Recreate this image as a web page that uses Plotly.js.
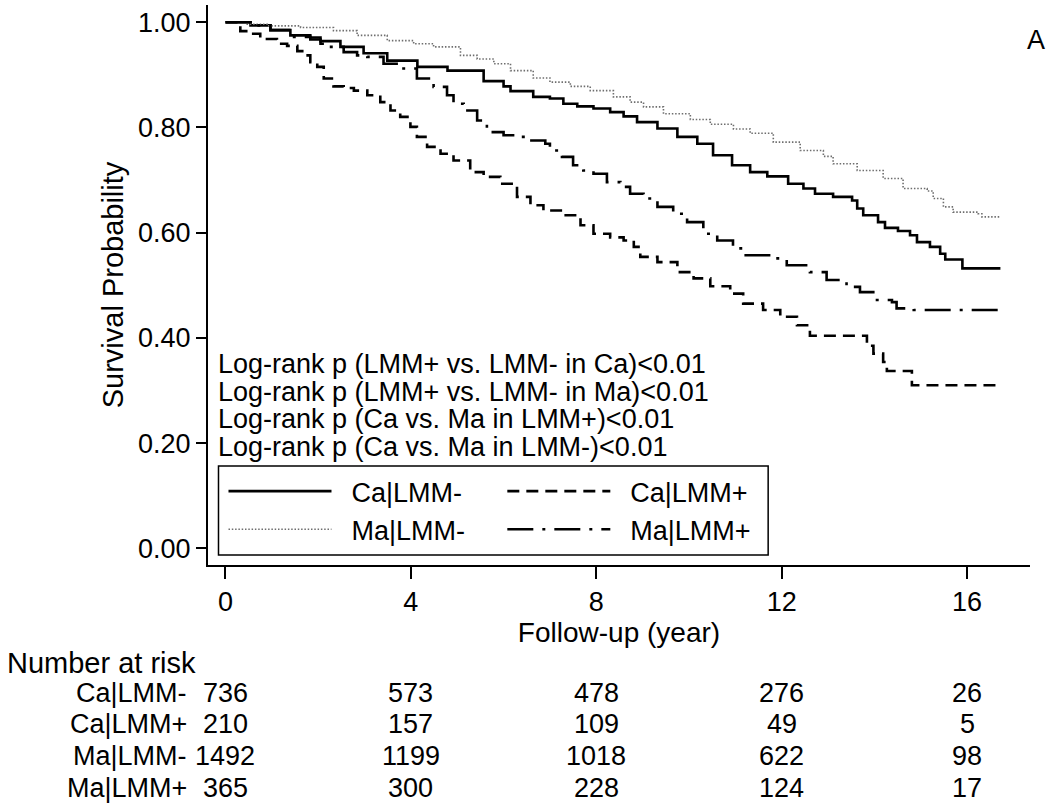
<!DOCTYPE html>
<html>
<head>
<meta charset="utf-8">
<script src="https://cdn.plot.ly/plotly-3.0.1.min.js"></script>
<style>html,body{margin:0;padding:0;background:#fff;}#chart{width:1050px;height:809px;}</style>
</head>
<body>
<div id="chart"></div>
<script>
// ---- data ----
const groupNames = ["Ca|LMM-", "Ca|LMM+", "Ma|LMM-", "Ma|LMM+"];

const caNegTime = [0, 0.54, 0.97, 1.4, 1.83, 2.05, 2.48, 2.98, 3.49, 4.14, 4.79, 5.57, 6.0, 6.15, 6.64, 7.0, 7.29, 7.59, 7.94, 8.3, 8.59, 8.88, 9.32, 9.75, 10.18, 10.52, 10.93, 11.32, 11.69, 12.14, 12.47, 12.72, 13.11, 13.52, 13.63, 13.76, 14.08, 14.23, 14.51, 14.77, 14.92, 15.2, 15.42, 15.53, 15.9, 16.72];
const caNegSurv = [1.0, 0.994, 0.985, 0.975, 0.971, 0.964, 0.953, 0.941, 0.927, 0.915, 0.908, 0.888, 0.878, 0.869, 0.858, 0.855, 0.845, 0.840, 0.836, 0.829, 0.821, 0.810, 0.798, 0.782, 0.769, 0.747, 0.728, 0.715, 0.707, 0.693, 0.684, 0.674, 0.668, 0.661, 0.646, 0.633, 0.620, 0.609, 0.603, 0.595, 0.582, 0.573, 0.560, 0.549, 0.532, 0.532];

const caPosTime = [0, 0.32, 0.54, 0.75, 1.11, 1.33, 1.55, 1.69, 1.83, 1.98, 2.12, 2.33, 2.55, 2.77, 3.06, 3.34, 3.56, 3.77, 3.99, 4.13, 4.35, 4.64, 4.92, 5.28, 5.57, 5.93, 6.29, 6.58, 6.86, 7.29, 7.66, 7.94, 8.3, 8.59, 8.81, 8.95, 9.32, 9.75, 10.1, 10.46, 10.89, 11.17, 11.6, 11.97, 12.33, 12.61, 13.84, 13.98, 14.19, 14.27, 14.81, 16.72];
const caPosSurv = [1.0, 0.983, 0.978, 0.968, 0.959, 0.955, 0.945, 0.937, 0.924, 0.915, 0.893, 0.878, 0.875, 0.870, 0.861, 0.848, 0.832, 0.820, 0.801, 0.782, 0.763, 0.750, 0.737, 0.715, 0.706, 0.693, 0.668, 0.652, 0.642, 0.633, 0.614, 0.598, 0.591, 0.585, 0.573, 0.554, 0.544, 0.525, 0.513, 0.498, 0.484, 0.465, 0.453, 0.440, 0.424, 0.404, 0.385, 0.370, 0.354, 0.337, 0.310, 0.310];

const maNegTime = [0, 0.47, 0.9, 1.62, 2.33, 2.84, 3.49, 4.06, 4.49, 5.07, 5.43, 5.79, 6.15, 6.64, 7.0, 7.44, 7.87, 8.37, 8.73, 9.02, 9.45, 10.03, 10.46, 10.96, 11.32, 11.82, 12.4, 12.9, 13.11, 13.63, 14.19, 14.62, 15.14, 15.27, 15.49, 15.7, 16.24, 16.32, 16.72];
const maNegSurv = [1.0, 0.996, 0.993, 0.990, 0.984, 0.975, 0.965, 0.959, 0.953, 0.937, 0.930, 0.921, 0.908, 0.894, 0.886, 0.878, 0.870, 0.858, 0.848, 0.839, 0.826, 0.815, 0.806, 0.797, 0.789, 0.772, 0.756, 0.745, 0.731, 0.718, 0.703, 0.684, 0.679, 0.665, 0.649, 0.639, 0.636, 0.630, 0.629];

const maPosTime = [0, 0.54, 0.97, 1.48, 1.83, 2.05, 2.19, 2.55, 2.84, 3.06, 3.41, 3.77, 4.13, 4.49, 4.78, 4.92, 5.14, 5.43, 5.64, 5.71, 6.0, 6.29, 6.5, 6.9, 7.0, 7.22, 7.26, 7.5, 7.72, 7.94, 8.23, 8.52, 8.73, 9.02, 9.32, 9.66, 9.96, 10.31, 10.61, 10.95, 11.17, 11.82, 12.11, 12.61, 12.97, 13.4, 13.69, 14.02, 14.38, 14.48, 14.85, 16.72];
const maPosSurv = [1.0, 0.994, 0.985, 0.972, 0.967, 0.959, 0.953, 0.943, 0.937, 0.934, 0.921, 0.912, 0.893, 0.877, 0.861, 0.845, 0.832, 0.813, 0.798, 0.791, 0.785, 0.782, 0.775, 0.769, 0.756, 0.750, 0.744, 0.728, 0.718, 0.712, 0.696, 0.687, 0.674, 0.665, 0.649, 0.636, 0.620, 0.598, 0.585, 0.570, 0.557, 0.551, 0.538, 0.525, 0.510, 0.497, 0.487, 0.472, 0.468, 0.456, 0.453, 0.453];

const xTicks = [0, 4, 8, 12, 16];
const yTicks = [0, 0.2, 0.4, 0.6, 0.8, 1.0];
const riskLabels = ["Ca|LMM-", "Ca|LMM+", "Ma|LMM-", "Ma|LMM+"];
const riskCaNeg = [736, 573, 478, 276, 26];
const riskCaPos = [210, 157, 109, 49, 5];
const riskMaNeg = [1492, 1199, 1018, 622, 98];
const riskMaPos = [365, 300, 228, 124, 17];
const logrankLines = [
  "Log-rank p (LMM+ vs. LMM- in Ca)<0.01",
  "Log-rank p (LMM+ vs. LMM- in Ma)<0.01",
  "Log-rank p (Ca vs. Ma in LMM+)<0.01",
  "Log-rank p (Ca vs. Ma in LMM-)<0.01"
];

// ---- layout helpers (pixel -> paper) ----
const W = 1050, H = 809;
const PL = 207.5, PR = 1030, PT = 4.5, PB = 565;
const px2x = p => (p - PL) / (PR - PL);
const py2y = p => (PB - p) / (PB - PT);

const FONT = "Liberation Sans, Arial, Helvetica, sans-serif";
const GAP = "\u00a0\u00a0";

const traces = [
  {x: caNegTime, y: caNegSurv, name: GAP + groupNames[0], mode: "lines", legend: "legend",
   line: {shape: "hv", color: "#000", width: 2.6, dash: "solid"}},
  {x: caPosTime, y: caPosSurv, name: GAP + groupNames[1], mode: "lines", legend: "legend2",
   line: {shape: "hv", color: "#000", width: 2.6, dash: "12px,7px"}},
  {x: maNegTime, y: maNegSurv, name: GAP + groupNames[2], mode: "lines", legend: "legend",
   line: {shape: "hv", color: "#6e6e6e", width: 1.6, dash: "1.5px,1.8px"}},
  {x: maPosTime, y: maPosSurv, name: GAP + groupNames[3], mode: "lines", legend: "legend2",
   line: {shape: "hv", color: "#000", width: 2.6, dash: "26px,9px,3px,9px"}}
];

const ann = [];
logrankLines.forEach((t, i) => {
  ann.push({xref: "paper", yref: "paper", x: px2x(216), y: py2y(364 + i * 27.5),
    xanchor: "left", yanchor: "middle", showarrow: false, text: t,
    font: {family: FONT, size: 27, color: "#000"}});
});
ann.push({xref: "paper", yref: "paper", x: px2x(1036), y: py2y(40), xanchor: "center", yanchor: "middle",
  showarrow: false, text: "A", font: {family: FONT, size: 27, color: "#000"}});
ann.push({xref: "paper", yref: "paper", x: px2x(4), y: py2y(663), xanchor: "left", yanchor: "middle",
  showarrow: false, text: "Number at risk", font: {family: FONT, size: 29, color: "#000"}});
const riskRows = [riskCaNeg, riskCaPos, riskMaNeg, riskMaPos];
const rowY = [693, 724.5, 756, 788];
riskRows.forEach((row, r) => {
  ann.push({xref: "paper", yref: "paper", x: px2x(188), y: py2y(rowY[r]), xanchor: "right", yanchor: "middle",
    showarrow: false, text: riskLabels[r], font: {family: FONT, size: 27, color: "#000"}});
  row.forEach((v, k) => {
    ann.push({xref: "x", yref: "paper", x: xTicks[k], y: py2y(rowY[r]), xanchor: "center", yanchor: "middle",
      showarrow: false, text: String(v), font: {family: FONT, size: 27, color: "#000"}});
  });
});

const legendCommon = {
  orientation: "v", yanchor: "top", xanchor: "left",
  bgcolor: "rgba(0,0,0,0)", borderwidth: 0,
  itemwidth: 103, font: {family: FONT, size: 27, color: "#000"},
  traceorder: "normal", itemclick: false, itemdoubleclick: false
};

const layout = {
  width: W, height: H,
  paper_bgcolor: "#fff", plot_bgcolor: "#fff",
  margin: {l: PL, r: W - PR, t: PT, b: H - PB, pad: 0},
  showlegend: true,
  legend: Object.assign({}, legendCommon, {x: px2x(223), y: py2y(467)}),
  legend2: Object.assign({}, legendCommon, {x: px2x(502), y: py2y(467)}),
  shapes: [{type: "rect", xref: "paper", yref: "paper",
    x0: px2x(218), x1: px2x(768), y0: py2y(555), y1: py2y(466),
    line: {color: "#000", width: 1.5}, fillcolor: "rgba(0,0,0,0)", layer: "above"}],
  xaxis: {
    range: [(PL - 225) / 46.375, (PR - 225) / 46.375],
    tickmode: "array", tickvals: xTicks, ticktext: xTicks.map(String),
    ticks: "outside", ticklen: 12, tickwidth: 2, tickcolor: "#000",
    showline: true, linecolor: "#000", linewidth: 2,
    showgrid: false, zeroline: false,
    tickfont: {family: FONT, size: 27, color: "#000"},
    title: {text: "Follow-up (year)", font: {family: FONT, size: 28, color: "#000"}, standoff: 0}
  },
  yaxis: {
    range: [(548.3 - PB) / 526.6, (548.3 - PT) / 526.6],
    tickmode: "array", tickvals: yTicks, ticktext: yTicks.map(v => v.toFixed(2)),
    ticks: "outside", ticklen: 10, tickwidth: 2, tickcolor: "#000",
    showline: true, linecolor: "#000", linewidth: 2,
    showgrid: false, zeroline: false,
    tickfont: {family: FONT, size: 27, color: "#000"},
    title: {text: "Survival Probability", font: {family: FONT, size: 29, color: "#000"}, standoff: 6}
  },
  annotations: ann
};

Plotly.newPlot("chart", traces, layout, {staticPlot: true, displayModeBar: false});
</script>
</body>
</html>
